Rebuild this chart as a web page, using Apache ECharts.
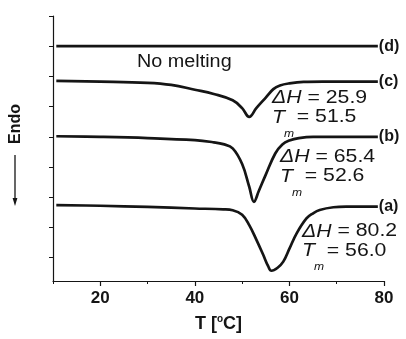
<!DOCTYPE html>
<html>
<head>
<meta charset="utf-8">
<script src="https://cdn.jsdelivr.net/npm/echarts@6/dist/echarts.min.js"></script>
<style>
  html, body { margin: 0; padding: 0; background: #fff; }
  #chart { width: 406px; height: 339px; }
</style>
</head>
<body>
<div id="chart"></div>
<script>
  // DSC traces, temperature (C) vs heat flow (arbitrary offset units)
  var tempA = [10.7, 20, 30, 40, 46, 48, 50, 51.5, 53, 54.5, 55.5, 56.2, 57.5, 58.7, 60, 61.5, 63.6, 65, 66.4, 69.3, 72, 78.7];
  var flowA = [1.74, 1.72, 1.68, 1.63, 1.6, 1.57, 1.42, 1.08, 0.6, 0.08, -0.28, -0.43, -0.33, -0.13, 0.3, 0.8, 1.3, 1.47, 1.58, 1.67, 1.69, 1.69];

  var tempB = [10.7, 20, 30, 40, 44, 46, 48, 50, 51.5, 52.5, 53.5, 55, 57, 58.5, 60, 62, 65, 78.7];
  var flowB = [4.02, 4.0, 3.96, 3.89, 3.82, 3.76, 3.62, 3.1, 2.35, 1.85, 2.2, 2.75, 3.45, 3.75, 3.88, 3.96, 4.0, 4.0];

  var tempC = [10.7, 20, 30, 35, 40, 44, 48, 50, 51.5, 53, 55, 56.6, 58, 60, 63, 67, 78.7];
  var flowC = [5.85, 5.83, 5.79, 5.72, 5.56, 5.42, 5.21, 4.95, 4.66, 4.95, 5.3, 5.58, 5.7, 5.77, 5.82, 5.83, 5.83];

  var tempD = [10.7, 40, 78.7];
  var flowD = [7.0, 7.0, 7.0];

  var curveNames = ['(a)', '(b)', '(c)', '(d)'];
  var xLabels = [20, 40, 60, 80];
  var yTicks = [0, 1, 2, 3, 4, 5, 6, 7, 8];

  function pairs(xs, ys) {
    var out = [];
    for (var i = 0; i < xs.length; i++) out.push([xs[i], ys[i]]);
    return out;
  }

  var ink = '#151515';
  var font = 'Liberation Sans, Arial, sans-serif';

  function curve(name, xs, ys) {
    return {
      name: name,
      type: 'line',
      data: pairs(xs, ys),
      xAxisIndex: 0,
      showSymbol: false,
      smooth: 0.4,
      lineStyle: { color: ink, width: 2.7 },
      endLabel: {
        show: true,
        formatter: name,
        distance: 1,
        color: ink,
        fontFamily: font,
        fontWeight: 'bold',
        fontSize: 16
      },
      silent: true
    };
  }

  function note(x, y, dH, tm) {
    var base = { fontFamily: font, fontSize: 18, fill: ink, textVerticalAlign: 'middle' };
    return [
      { type: 'text', x: x, y: y, scaleX: 1.18,
        style: Object.assign({ text: '{i|ΔH} = ' + dH,
          rich: { i: { fontStyle: 'italic', fontFamily: font, fontSize: 18 } } }, base) },
      { type: 'text', x: x, y: y + 19.5, scaleX: 1.18,
        style: Object.assign({ text: '{i|T}  = ' + tm,
          rich: { i: { fontStyle: 'italic', fontFamily: font, fontSize: 18 } } }, base) },
      { type: 'text', x: x + 12, y: y + 35.5, scaleX: 1.1,
        style: { text: 'm', fontFamily: font, fontSize: 11, fontStyle: 'italic', fill: ink, textVerticalAlign: 'middle' } }
    ];
  }

  var myEchart = echarts.init(document.getElementById('chart'));
  var option = {
    animation: false,
    grid: { left: 53, right: 22, top: 16, bottom: 58 },
    xAxis: [{
      type: 'value',
      min: 10,
      max: 80,
      interval: 10,
      name: 'T [{s|o}C]',
      nameLocation: 'middle',
      nameGap: 33,
      nameTextStyle: {
        color: ink, fontFamily: font, fontWeight: 'bold', fontSize: 18,
        rich: { s: { fontSize: 10, fontWeight: 'bold', fontFamily: font, color: ink, padding: [0, 0, 10, 0] } }
      },
      axisLine: { onZero: false, lineStyle: { color: ink, width: 1.2 } },
      axisTick: { customValues: xLabels, length: 5, lineStyle: { color: ink, width: 1.2 } },
      axisLabel: { customValues: xLabels, margin: 9, color: ink, fontFamily: font, fontWeight: 'bold', fontSize: 17 },
      splitLine: { show: false }
    }, {
      type: 'value',
      min: 10,
      max: 80,
      interval: 10,
      position: 'bottom',
      axisLine: { show: false, onZero: false },
      axisTick: { length: 3, lineStyle: { color: ink, width: 1 } },
      axisLabel: { show: false },
      splitLine: { show: false }
    }],
    yAxis: {
      type: 'value',
      min: -0.77,
      max: 8,
      axisLine: { onZero: false, lineStyle: { color: ink, width: 1.2 } },
      axisTick: { customValues: yTicks, length: 4, lineStyle: { color: ink, width: 1 } },
      axisLabel: { show: false },
      splitLine: { show: false }
    },
    series: [
      curve(curveNames[0], tempA, flowA),
      curve(curveNames[1], tempB, flowB),
      curve(curveNames[2], tempC, flowC),
      curve(curveNames[3], tempD, flowD)
    ],
    graphic: [].concat(
      [
        { type: 'text', x: 137, y: 62, scaleX: 1.1,
          style: { text: 'No melting', fontFamily: font, fontSize: 18, fill: ink, textVerticalAlign: 'middle' } },
        { type: 'text', x: 16, y: 124, rotation: Math.PI / 2,
          style: { text: 'Endo', fontFamily: font, fontWeight: 'bold', fontSize: 16, fill: ink, textAlign: 'center', textVerticalAlign: 'middle' } },
        { type: 'line', shape: { x1: 15, y1: 155, x2: 15, y2: 201 }, style: { stroke: ink, lineWidth: 1.3 } },
        { type: 'polygon', shape: { points: [[12.6, 198], [17.4, 198], [15, 206]] }, style: { fill: ink } }
      ],
      note(272, 98, '25.9', '51.5'),
      note(280, 157, '65.4', '52.6'),
      note(302, 231.5, '80.2', '56.0')
    )
  };
  myEchart.setOption(option);
</script>
</body>
</html>
